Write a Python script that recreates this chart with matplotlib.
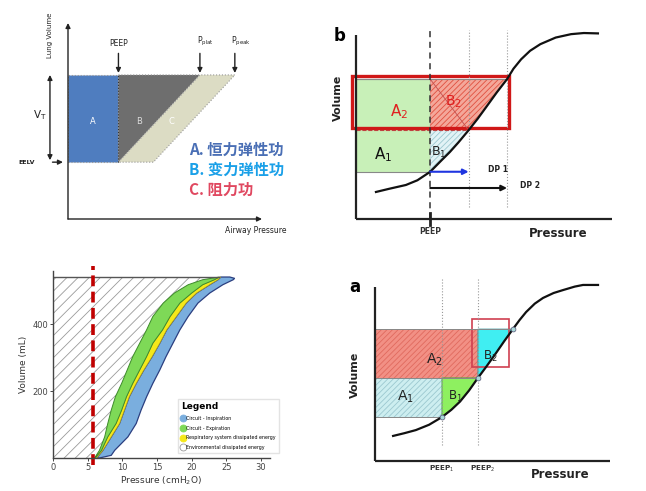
import numpy as np
import matplotlib.pyplot as plt
from matplotlib.lines import Line2D
from matplotlib.patches import Polygon, Rectangle

plt.rcParams['font.family'] = ['DejaVu Sans']
plt.rcParams['hatch.linewidth'] = 0.6

# figure size in pixels
W, H = 646, 491

# ---- top left: work of breathing schematic (arbitrary units 0-100)
TL_PEEP, TL_PPLAT, TL_PPEAK = 26, 68, 86
TL_EELV, TL_VEND = 29, 73.5
TL_AREA_LABELS = ["A", "B", "C"]
TL_CN_LABELS = ["A. 恒力弹性功", "B. 变力弹性功", "C. 阻力功"]
TL_CN_COLORS = ["#4a6fb5", "#1aa0e8", "#e04860"]

# ---- top right (b): P-V curve, arbitrary units
B_CURVE_P = [7.8, 13, 19.5, 24, 29, 33, 36.7, 40, 44, 47.5, 51, 55, 59,
             61.5, 64.5, 68, 72, 78, 84, 89, 94.5]
B_CURVE_V = [14.3, 16, 18.0, 20.5, 25, 30.5, 35.5, 40.5, 47, 53, 59.5, 67, 74,
             79.5, 84.5, 89, 92.5, 96, 97.8, 98.4, 98.2]
B_PEEP, B_DP1, B_DP2 = 29, 44, 59
B_V0, B_V1, B_V2 = 25, 47, 74

# ---- bottom right (a): P-V curve, arbitrary units
A_CURVE_P = [7.7, 12.5, 17.4, 23, 28.5, 32.5, 36.2, 40, 43.8, 47.5, 51.5, 55,
             58.7, 61.5, 64.3, 68, 71.5, 76, 80, 85, 88.5, 94.9]
A_CURVE_V = [13.7, 15.2, 16.9, 19.8, 24, 28, 32.5, 38.5, 45.4, 51.8, 59, 65.5,
             72.1, 77, 81.4, 86, 89.1, 91.8, 93.4, 95.3, 96.2, 96.2]
A_PEEP1, A_PEEP2, A_PEND = 28.5, 43.8, 58.7
A_V0, A_V1, A_V2 = 24, 45.4, 72.1

# ---- bottom left: measured energy loops (cmH2O, mL)
LOOP_V = [0, 23, 63, 103, 143, 183, 223, 263, 303, 343, 383, 423, 463, 493, 518, 533, 541]
GREEN_P = [6.0, 6.7, 7.45, 7.9, 8.4, 9.0, 9.9, 10.7, 11.5, 12.5, 13.5, 14.4, 15.9,
           17.5, 19.5, 21.6, 24.0]
YELLOW_P = [6.1, 7.0, 7.9, 9.1, 9.9, 10.6, 11.5, 12.5, 13.5, 14.4, 15.8, 16.9, 18.3,
            20.0, 21.6, 23.3, 24.0]
BLUE_IN_P = [6.3, 7.2, 8.4, 9.6, 10.3, 11.0, 12.0, 13.1, 14.3, 15.4, 16.4, 17.8, 19.2,
             20.7, 22.6, 23.8, 24.2]
BLUE_OUT_P = [6.7, 8.4, 8.9, 10.8, 12.0, 12.7, 13.5, 14.4, 15.4, 16.3, 17.3, 18.3, 19.5,
              20.9, 22.6, 24.5, 26.0, 26.2, 25.5]
BLUE_OUT_V = [0, 8, 23, 63, 103, 143, 183, 223, 263, 303, 343, 383, 423, 463, 493, 518,
              533, 537, 541]
PEEP_LINE = 5.7
V_TOP = 541
X_TICKS = [0, 5, 10, 15, 20, 25, 30]
Y_TICKS = [200, 400]
LEGEND_LABELS = ["Circuit - Inspiration", "Circuit - Expiration",
                 "Respiratory system dissipated energy",
                 "Environmental dissipated energy"]
LEGEND_COLORS = ["#7aaede", "#7ed957", "#f5e81a", "white"]


def px_axes(fig, left, top, right, bottom):
    # place an axes using pixel edges of the reference picture
    return fig.add_axes([left / W, 1 - bottom / H, (right - left) / W, (bottom - top) / H])


def axis_lines(ax, ytop, xright, lw=1.6, color="#222"):
    ax.plot([0, 0], [0, ytop], color=color, lw=lw, clip_on=False, solid_capstyle="butt")
    ax.plot([0, xright], [0, 0], color=color, lw=lw, clip_on=False, solid_capstyle="butt")


fig = plt.figure(figsize=(W / 100, H / 100), dpi=100)
fig.patch.set_facecolor("white")

# ================= top left =================
ax = px_axes(fig, 68, 23, 262, 219)
ax.set_xlim(0, 100)
ax.set_ylim(0, 100)
ax.axis("off")
arr = dict(arrowstyle="-|>", color="#222", lw=1.0, mutation_scale=7, shrinkA=0, shrinkB=0)
ax.annotate("", xy=(0, 100), xytext=(0, 0), arrowprops=arr, annotation_clip=False)
ax.annotate("", xy=(100, 0), xytext=(0, 0), arrowprops=arr, annotation_clip=False)

ax.add_patch(Rectangle((0, TL_EELV), TL_PEEP, TL_VEND - TL_EELV, fc="#4f7dbf",
                       ec="#999", ls=":", lw=0.8))
ax.add_patch(Polygon([(TL_PEEP, TL_VEND), (TL_PPLAT, TL_VEND), (TL_PEEP, TL_EELV)],
                     fc="#6e6e6e", ec="#999", ls=":", lw=0.8))
c_low = TL_PEEP + (TL_PPEAK - TL_PPLAT)
ax.add_patch(Polygon([(TL_PEEP, TL_EELV), (TL_PPLAT, TL_VEND), (TL_PPEAK, TL_VEND),
                      (c_low, TL_EELV)], fc="#dcdcc4", ec="#999", ls=":", lw=0.8))
ax.plot([TL_PEEP, TL_PEEP], [TL_EELV, TL_VEND], color="#333", lw=0.8, ls=":")
for lab, x in zip(TL_AREA_LABELS, [13, 36.5, 53.5]):
    ax.text(x, 49.5, lab, color="white" if lab != "B" else "#ddd", fontsize=6,
            ha="center", va="center")

for lab, x in zip(["PEEP", r"P$_{\rm plat}$", r"P$_{\rm peak}$"],
                  [TL_PEEP, TL_PPLAT, TL_PPEAK]):
    ax.annotate("", xy=(x, TL_VEND + 1), xytext=(x, TL_VEND + 11), arrowprops=arr)
    ax.text(x + (0 if lab == "PEEP" else 3), TL_VEND + 13.5, lab, fontsize=5.5,
            ha="center", va="bottom", color="#222")

vt = dict(arrowstyle="<|-|>", color="#222", lw=1.0, mutation_scale=7, shrinkA=0, shrinkB=0)
ax.annotate("", xy=(-9.3, TL_VEND), xytext=(-9.3, TL_EELV + 1), arrowprops=vt,
            annotation_clip=False)
ax.text(-14.5, 53, r"V$_{\rm T}$", fontsize=7.5, ha="center", va="center", color="#222")
ax.annotate("", xy=(-2.6, TL_EELV), xytext=(-8, TL_EELV), arrowprops=arr,
            annotation_clip=False)
ax.text(-21.5, TL_EELV, "EELV", fontsize=4.5, ha="center", va="center",
        color="#222", fontweight="bold")
ax.text(-9.3, 93.5, "Lung Volume", fontsize=5, rotation=90, ha="center",
        va="center", color="#222")
ax.text(97, -5.8, "Airway Pressure", fontsize=5.5, ha="center", va="center", color="#222")
for i, (lab, col) in enumerate(zip(TL_CN_LABELS, TL_CN_COLORS)):
    ax.text(62.5, 35.2 - 10.2 * i, lab, fontsize=11, color=col, ha="left", va="center",
            family=["Noto Sans CJK SC", "DejaVu Sans"], fontweight="bold")

# ================= top right (b) =================
ax = px_axes(fig, 356, 30, 612, 219)
ax.set_xlim(0, 100)
ax.set_ylim(0, 100)
ax.axis("off")
cp, cv = np.array(B_CURVE_P), np.array(B_CURVE_V)
ax.add_patch(Rectangle((0, B_V0), B_PEEP, B_V2 - B_V0, fc="#c8f0b8", ec="#888", lw=0.8))
m1 = (cp >= B_PEEP) & (cp <= B_DP1)
b1 = [(B_PEEP, B_V1), (B_DP1, B_V1)] + list(zip(cp[m1][::-1], cv[m1][::-1]))
ax.add_patch(Polygon(b1, fc="#e2f3f6", ec="#9cc8d0", hatch="//////", lw=0))
m2 = (cp >= B_DP1) & (cp <= B_DP2)
b2 = [(B_PEEP, B_V2), (B_DP2, B_V2)] + list(zip(cp[m2][::-1], cv[m2][::-1])) + [(B_PEEP, B_V1)]
ax.add_patch(Polygon(b2, fc="#f4a79a", ec="#e0503f", hatch="//////", lw=0))
ax.plot([B_PEEP, B_DP1], [B_V2, B_V1], color="#c05050", lw=0.6)
ax.plot([0, B_DP2], [B_V2, B_V2], color="#888", lw=0.8)
ax.plot([0, B_DP1], [B_V1, B_V1], color="#c04040", lw=0.8, ls="--")
for x in [B_DP1, B_DP2]:
    ax.plot([x, x], [6.3, 100], color="#999", lw=0.8, ls=":")
ax.plot([B_PEEP, B_PEEP], [0, 100], color="#333", lw=1.1, ls=(0, (4, 3)))
ax.plot([B_PEEP, B_PEEP], [-3, 3], color="#222", lw=2.0, clip_on=False)
ax.plot(cp, cv, color="#111", lw=1.6)
axis_lines(ax, 97.4, 100)
ax.add_patch(Rectangle((-1.6, 48.1), 61.4, 27.6, fill=False, ec="#d01818", lw=2.4,
                       clip_on=False))
ax.annotate("", xy=(B_DP1, B_V0), xytext=(B_PEEP, B_V0),
            arrowprops=dict(arrowstyle="-|>", color="#1f35e0", lw=1.5, mutation_scale=8,
                            shrinkA=0, shrinkB=0))
ax.annotate("", xy=(B_DP2, 16.4), xytext=(B_PEEP, 16.4),
            arrowprops=dict(arrowstyle="-|>", color="#111", lw=1.5, mutation_scale=8,
                            shrinkA=0, shrinkB=0))
ax.text(51.5, 26, "DP 1", fontsize=5.5, fontweight="bold", va="center", color="#222")
ax.text(64, 17.8, "DP 2", fontsize=5.5, fontweight="bold", va="center", color="#222")
ax.text(17, 57, r"A$_2$", fontsize=11, color="#e02020", ha="center", va="center")
ax.text(38, 62, r"B$_2$", fontsize=10, color="#e02020", ha="center", va="center")
ax.text(10.5, 34, r"A$_1$", fontsize=11, color="#111", ha="center", va="center")
ax.text(32.5, 35, r"B$_1$", fontsize=9, color="#222", ha="center", va="center")
ax.text(-6.5, 97, "b", fontsize=12, fontweight="bold", ha="center", va="center")
ax.text(-7, 64, "Volume", fontsize=8, fontweight="bold", rotation=90,
        ha="center", va="center", color="#222")
ax.text(79, -7.5, "Pressure", fontsize=8.5, fontweight="bold", ha="center",
        va="center", color="#222")
ax.text(B_PEEP, -6.5, "PEEP", fontsize=5.5, fontweight="bold", ha="center",
        va="center", color="#333")

# ================= bottom left =================
ax = px_axes(fig, 53, 271, 270, 458)
ax.set_xlim(0, 31.3)
ax.set_ylim(0, 559)
hatch_poly = [(0, 0), (0, V_TOP)] + list(zip(GREEN_P[::-1], LOOP_V[::-1]))
ax.add_patch(Polygon(hatch_poly, fc="white", ec="#9a9a9a", hatch="///", lw=0))
ax.fill(BLUE_IN_P + BLUE_OUT_P[::-1], LOOP_V + BLUE_OUT_V[::-1],
        fc="#7aaede", ec="#2b3f80", lw=0.9)
ax.fill(YELLOW_P + BLUE_IN_P[::-1], LOOP_V + LOOP_V[::-1],
        fc="#f5e81a", ec="#b0a020", lw=0.5)
ax.fill(GREEN_P + YELLOW_P[::-1], LOOP_V + LOOP_V[::-1],
        fc="#7ed957", ec="#3d8a2a", lw=0.7)
ax.plot([0, GREEN_P[-1]], [V_TOP, V_TOP], color="#555", lw=1.0)
ax.plot([PEEP_LINE, PEEP_LINE], [-20, 573], color="#c00000", lw=2.6,
        ls=(0, (3, 1.5)), clip_on=False)
for s in ["top", "right"]:
    ax.spines[s].set_visible(False)
for s in ["left", "bottom"]:
    ax.spines[s].set_color("#444")
    ax.spines[s].set_linewidth(1.0)
ax.set_xticks(X_TICKS)
ax.set_yticks(Y_TICKS)
ax.tick_params(labelsize=6, colors="#444", length=2, width=0.7, pad=1.5)
ax.set_xlabel("Pressure (cmH$_2$O)", fontsize=6.5, color="#333", labelpad=2)
ax.set_ylabel("Volume (mL)", fontsize=6.5, color="#333", labelpad=3)
handles = [Line2D([], [], ls="", marker="o", ms=5, mfc=c,
                  mec="#999" if c == "white" else c, mew=0.6)
           for c in LEGEND_COLORS]
leg = ax.legend(handles, LEGEND_LABELS, title="Legend", loc="lower left",
                bbox_to_anchor=(0.565, 0.015), fontsize=3.4, title_fontsize=6.5,
                frameon=True, fancybox=False, edgecolor="#ddd", handletextpad=0.2,
                borderpad=0.6, labelspacing=1.0, handlelength=1.0, alignment="left")
leg.get_title().set_fontweight("bold")

# ================= bottom right (a) =================
ax = px_axes(fig, 375, 278, 610, 461)
ax.set_xlim(0, 100)
ax.set_ylim(0, 100)
ax.axis("off")
cp, cv = np.array(A_CURVE_P), np.array(A_CURVE_V)
ax.add_patch(Rectangle((0, A_V0), A_PEEP1, A_V1 - A_V0, fc="#cdeef0", ec="#9cc8d0",
                       hatch="//////", lw=0))
ax.add_patch(Rectangle((0, A_V1), A_PEEP2, A_V2 - A_V1, fc="#f29085", ec="#e06a5e",
                       hatch="//////", lw=0))
ax.plot([0, A_PEEP1], [A_V0, A_V0], color="#888", lw=0.7)
ax.plot([0, A_PEND], [A_V2, A_V2], color="#888", lw=0.7)
ax.plot([0, A_PEEP2], [A_V1, A_V1], color="#888", lw=0.7)
m1 = (cp >= A_PEEP1) & (cp <= A_PEEP2)
ax.add_patch(Polygon([(A_PEEP1, A_V1), (A_PEEP2, A_V1)] +
                     list(zip(cp[m1][::-1], cv[m1][::-1])),
                     fc="#8ef060", ec="#4a9a40", lw=0.6))
m2 = (cp >= A_PEEP2) & (cp <= A_PEND)
ax.add_patch(Polygon([(A_PEEP2, A_V2), (A_PEND, A_V2)] +
                     list(zip(cp[m2][::-1], cv[m2][::-1])),
                     fc="#40eef2", ec="#3a9aa0", lw=0.6))
for x in [A_PEEP1, A_PEEP2]:
    ax.plot([x, x], [8.7, 100], color="#999", lw=0.8, ls=":")
ax.plot(cp, cv, color="#111", lw=1.6)
ax.plot([A_PEEP1, A_PEEP2, A_PEND], [A_V0, A_V1, A_V2], ls="", marker="o", ms=3.5,
        mfc="#a8d8d8", mec="#557", mew=0.5)
axis_lines(ax, 95, 100)
ax.add_patch(Rectangle((41.3, 51.4), 15.7, 26.2, fill=False, ec="#d04050", lw=1.2))
ax.text(25.5, 55.5, r"A$_2$", fontsize=10, color="#222", ha="center", va="center")
ax.text(49, 57, r"B$_2$", fontsize=8.5, color="#222", ha="center", va="center")
ax.text(12.8, 35, r"A$_1$", fontsize=10, color="#222", ha="center", va="center")
ax.text(34.2, 35.5, r"B$_1$", fontsize=8.5, color="#222", ha="center", va="center")
ax.text(-8.5, 95, "a", fontsize=12, fontweight="bold", ha="center", va="center")
ax.text(-8.5, 47, "Volume", fontsize=8, fontweight="bold", rotation=90,
        ha="center", va="center", color="#222")
ax.text(79, -7.5, "Pressure", fontsize=8.5, fontweight="bold", ha="center",
        va="center", color="#222")
ax.text(A_PEEP1, -4.5, r"PEEP$_1$", fontsize=5.2, fontweight="bold", ha="center",
        va="center", color="#333")
ax.text(A_PEEP2 + 2, -4.5, r"PEEP$_2$", fontsize=5.2, fontweight="bold", ha="center",
        va="center", color="#333")

fig.savefig("out.png", dpi=100, facecolor="white")
